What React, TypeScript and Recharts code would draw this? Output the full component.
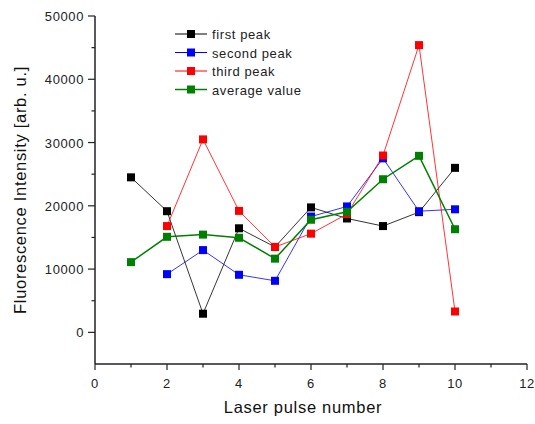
import React from 'react';
import { LineChart, Line, XAxis, YAxis } from 'recharts';

const pulses = [1, 2, 3, 4, 5, 6, 7, 8, 9, 10];
const firstPeak = [24500, 19150, 2950, 16450, 13500, 19750, 18000, 16800, 19000, 26000];
const secondPeak = [null, 9200, 13000, 9100, 8150, 18300, 19900, 27500, 19150, 19450];
const thirdPeak = [null, 16800, 30500, 19200, 13500, 15600, 18700, 27950, 45400, 3300];
const averageValue = [11100, 15100, 15450, 14950, 11650, 17800, 19050, 24200, 27900, 16300];

const xTicks = [0, 1, 2, 3, 4, 5, 6, 7, 8, 9, 10, 11, 12];
const yTicks = [-5000, 0, 5000, 10000, 15000, 20000, 25000, 30000, 35000, 40000, 45000, 50000];

const seriesNames = ['first peak', 'second peak', 'third peak', 'average value'];
const seriesColors = ['#000000', '#0000ff', '#ff0000', '#008000'];
const seriesWidths = [0.8, 0.8, 0.8, 1.5];

const data = pulses.map((p, i) => ({
  x: p,
  first: firstPeak[i],
  second: secondPeak[i],
  third: thirdPeak[i],
  avg: averageValue[i],
}));

const FONT = 'Liberation Sans, Arial, sans-serif';
const AXIS = '#222';

const XTick = (props: any) => {
  const { x, y, payload } = props;
  const v = payload.value;
  const major = v % 2 === 0;
  return (
    <g>
      <line x1={x} x2={x} y1={y} y2={y + (major ? 6 : 3.5)} stroke={AXIS} strokeWidth={1.2} />
      {major && (
        <text x={x} y={y + 24} textAnchor="middle" fontSize={13} letterSpacing={0.6} fontFamily={FONT} fill="#222">
          {v}
        </text>
      )}
    </g>
  );
};

const YTick = (props: any) => {
  const { x, y, payload } = props;
  const v = payload.value;
  if (v < 0) return <g />;
  const major = v % 10000 === 0;
  return (
    <g>
      <line x1={x} x2={x - (major ? 7 : 3.5)} y1={y} y2={y} stroke={AXIS} strokeWidth={1.2} />
      {major && (
        <text x={x - 11} y={y + 5} textAnchor="end" fontSize={13} letterSpacing={0.6} fontFamily={FONT} fill="#222">
          {v}
        </text>
      )}
    </g>
  );
};

const makeDot = (color: string) => (props: any) => {
  const { cx, cy, index } = props;
  if (cy == null || cx == null || isNaN(cy)) return <g key={`d-${color}-${index}`} />;
  return <rect key={`d-${color}-${index}`} x={cx - 4} y={cy - 4} width={8} height={8} fill={color} />;
};

const LegendBox = () => (
  <svg width={200} height={80} style={{ display: 'block' }}>
    {seriesNames.map((n, i) => {
      const cy = 8 + i * 18.5;
      return (
        <g key={n}>
          <line x1={0} x2={32} y1={cy} y2={cy} stroke={seriesColors[i]} strokeWidth={i === 3 ? 1.5 : 1} />
          <rect x={12} y={cy - 4} width={8} height={8} fill={seriesColors[i]} />
          <text x={37} y={cy + 5} fontSize={13} letterSpacing={0.6} fontFamily={FONT} fill="#222">
            {n}
          </text>
        </g>
      );
    })}
  </svg>
);

export default function App() {
  const keys = ['first', 'second', 'third', 'avg'];
  return (
    <div style={{ position: 'absolute', left: 0, top: 0, width: 535, height: 424, background: '#fff' }}>
      <LineChart width={535} height={424} data={data} margin={{ top: 16, right: 8, bottom: 0, left: 0 }}>
        <XAxis
          dataKey="x"
          type="number"
          domain={[0, 12]}
          ticks={xTicks}
          interval={0}
          tickSize={0}
          tickMargin={0}
          tickLine={false}
          tick={<XTick />}
          axisLine={{ stroke: AXIS, strokeWidth: 1.5 }}
          height={60}
        />
        <YAxis
          type="number"
          domain={[-5000, 50000]}
          ticks={yTicks}
          interval={0}
          tickSize={0}
          tickMargin={0}
          tickLine={false}
          tick={<YTick />}
          axisLine={{ stroke: AXIS, strokeWidth: 1.5 }}
          width={95}
          allowDataOverflow
        />
        {keys.map((k, i) => (
          <Line
            key={k}
            dataKey={k}
            type="linear"
            stroke={seriesColors[i]}
            strokeWidth={seriesWidths[i]}
            dot={makeDot(seriesColors[i])}
            activeDot={false}
            isAnimationActive={false}
            connectNulls={false}
          />
        ))}
      </LineChart>
      <div style={{ position: 'absolute', left: 175, top: 26 }}>
        <LegendBox />
      </div>
      <div
        style={{
          position: 'absolute',
          left: 303,
          top: 398,
          transform: 'translateX(-50%)',
          fontFamily: FONT,
          fontSize: 16.5,
          letterSpacing: 0.7,
          color: '#111',
          whiteSpace: 'nowrap',
        }}
      >
        Laser pulse number
      </div>
      <div
        style={{
          position: 'absolute',
          left: 20,
          top: 190,
          transform: 'translate(-50%, -50%) rotate(-90deg)',
          fontFamily: FONT,
          fontSize: 16.5,
          letterSpacing: 0.7,
          color: '#111',
          whiteSpace: 'nowrap',
        }}
      >
        Fluorescence Intensity [arb. u.]
      </div>
    </div>
  );
}
